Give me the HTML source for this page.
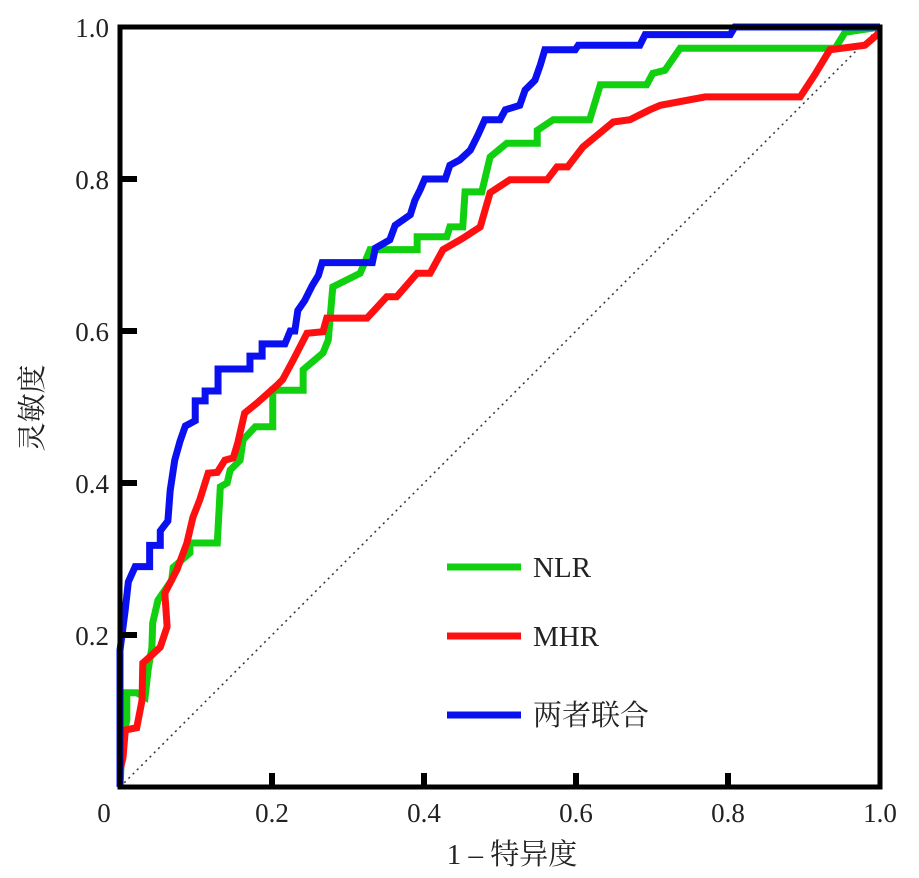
<!DOCTYPE html>
<html><head><meta charset="utf-8"><style>
body{margin:0;background:#fff;}
svg{display:block;font-family:"Liberation Serif","Noto Serif CJK SC",serif;}
</style></head><body>
<svg id="chart" width="919" height="878" viewBox="0 0 919 878" xmlns="http://www.w3.org/2000/svg"></svg>
<script>
const xTicks=[0,0.2,0.4,0.6,0.8,1.0];
const yTicks=[0.2,0.4,0.6,0.8,1.0];
const xTickLabels=["0","0.2","0.4","0.6","0.8","1.0"];
const yTickLabels=["0.2","0.4","0.6","0.8","1.0"];
const seriesNames=["NLR","MHR","两者联合"];
const nlrFpr=[0,0.003,0.009,0.009,0.022,0.033,0.037,0.042,0.043,0.05,0.068,0.07,0.092,0.092,0.128,0.132,0.141,0.145,0.158,0.162,0.178,0.201,0.201,0.241,0.241,0.267,0.274,0.28,0.316,0.329,0.391,0.391,0.43,0.434,0.451,0.454,0.476,0.487,0.509,0.549,0.549,0.57,0.618,0.632,0.693,0.701,0.717,0.737,0.941,0.954,1];
const nlrTpr=[0,0.062,0.088,0.124,0.124,0.118,0.154,0.184,0.216,0.246,0.272,0.289,0.308,0.321,0.321,0.395,0.4,0.417,0.43,0.457,0.474,0.474,0.522,0.522,0.549,0.571,0.588,0.658,0.676,0.707,0.707,0.724,0.724,0.737,0.737,0.783,0.783,0.829,0.847,0.847,0.864,0.878,0.878,0.924,0.924,0.939,0.943,0.972,0.972,0.993,1];
const mhrFpr=[0,0.004,0.007,0.022,0.029,0.03,0.039,0.053,0.062,0.059,0.075,0.088,0.096,0.105,0.116,0.128,0.138,0.149,0.155,0.164,0.18,0.207,0.214,0.228,0.246,0.267,0.272,0.325,0.351,0.364,0.391,0.408,0.425,0.451,0.474,0.487,0.513,0.562,0.575,0.589,0.609,0.649,0.671,0.697,0.711,0.77,0.895,0.914,0.934,0.98,1];
const mhrTpr=[0.022,0.039,0.075,0.078,0.114,0.163,0.171,0.184,0.211,0.255,0.286,0.321,0.355,0.378,0.413,0.414,0.43,0.433,0.453,0.492,0.505,0.529,0.536,0.562,0.597,0.599,0.617,0.617,0.645,0.645,0.676,0.676,0.707,0.722,0.737,0.782,0.799,0.799,0.816,0.816,0.842,0.875,0.878,0.891,0.897,0.908,0.908,0.937,0.97,0.976,0.993];
const combFpr=[0,0,0.007,0.011,0.02,0.039,0.039,0.053,0.053,0.063,0.066,0.072,0.079,0.086,0.099,0.099,0.112,0.112,0.129,0.129,0.171,0.171,0.187,0.187,0.217,0.224,0.23,0.234,0.243,0.253,0.261,0.266,0.332,0.336,0.355,0.362,0.382,0.388,0.395,0.401,0.428,0.434,0.447,0.461,0.471,0.48,0.5,0.507,0.526,0.533,0.546,0.553,0.559,0.599,0.603,0.684,0.691,0.803,0.809,1];
const combTpr=[0,0.18,0.234,0.27,0.29,0.29,0.318,0.318,0.337,0.35,0.39,0.43,0.455,0.475,0.482,0.508,0.508,0.521,0.521,0.55,0.55,0.567,0.567,0.583,0.583,0.6,0.6,0.627,0.64,0.66,0.673,0.69,0.69,0.709,0.72,0.739,0.753,0.772,0.786,0.8,0.8,0.818,0.825,0.838,0.858,0.878,0.878,0.891,0.897,0.917,0.93,0.95,0.97,0.97,0.976,0.976,0.99,0.99,1,1];

const svg=document.getElementById('chart');
const NS='http://www.w3.org/2000/svg';
const X0=120,X1=880,Y0=787,Y1=27;
const sx=v=>X0+v*(X1-X0), sy=v=>Y0-v*(Y0-Y1);
function mk(t,a){const e=document.createElementNS(NS,t);for(const k in a)e.setAttribute(k,a[k]);svg.appendChild(e);return e;}

let d=mk('line',{x1:sx(0),y1:sy(0),x2:sx(1),y2:sy(1),stroke:'#333','stroke-width':1.5,'stroke-dasharray':'2,4'});



const series=[[nlrFpr,nlrTpr,'#10d010','nlr-curve'],[mhrFpr,mhrTpr,'#ff1010','mhr-curve'],[combFpr,combTpr,'#0a10f0','combined-curve']];
series.forEach(s=>{
  const pts=s[0].map((x,i)=>sx(x)+','+sy(s[1][i])).join(' ');
  const p=mk('polyline',{points:pts,fill:'none',stroke:s[2],'stroke-width':7,'stroke-linejoin':'miter'});
  
  
});

let f=mk('rect',{x:X0,y:Y1,width:X1-X0,height:Y0-Y1,fill:'none',stroke:'#000','stroke-width':5});



xTicks.forEach((v,i)=>{
  if(v>0&&v<1){const t=mk('line',{x1:sx(v),y1:Y0,x2:sx(v),y2:Y0-14,stroke:'#000','stroke-width':6});
  
  }
  const l=mk('text',{x:v===0?sx(v)-16:sx(v),y:822,'font-size':27,'text-anchor':'middle',fill:'#222'});
  l.textContent=xTickLabels[i];
  
  
});
yTicks.forEach((v,i)=>{
  if(v<1){const t=mk('line',{x1:X0,y1:sy(v),x2:X0+17,y2:sy(v),stroke:'#000','stroke-width':6});
  
  }
  const l=mk('text',{x:109,y:sy(v)+10,'font-size':27,'text-anchor':'end',fill:'#222'});
  l.textContent=yTickLabels[i];
  
  
});

const xt=mk('text',{x:512,y:864,'font-size':29,'text-anchor':'middle',fill:'#222'});
xt.textContent='1 – 特异度';


const yt=mk('text',{x:0,y:0,'font-size':29,'text-anchor':'middle',fill:'#222',transform:'translate(42,408) rotate(-90)'});
yt.textContent='灵敏度';



const legY=[567,636,715];
series.forEach((s,i)=>{
  const ln=mk('line',{x1:447,y1:legY[i],x2:521,y2:legY[i],stroke:s[2],'stroke-width':7});
  
  
  const tx=mk('text',{x:533,y:legY[i]+10,'font-size':29,fill:'#222'});
  tx.textContent=seriesNames[i];
  
  
});
</script>
</body></html>
